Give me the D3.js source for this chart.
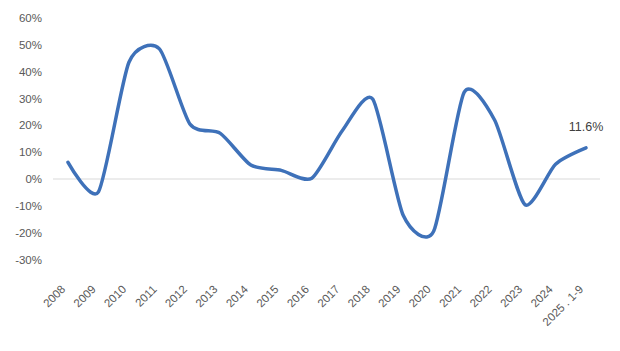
<!DOCTYPE html>
<html>
<head>
<meta charset="utf-8">
<script src="https://cdn.jsdelivr.net/npm/d3@7"></script>
<style>
  body { margin: 0; background: #fff; }
  text { font-family: "Liberation Sans", Arial, sans-serif; }
</style>
</head>
<body>
<div id="chart"></div>
<script>
// categories and values (growth rate, %)
var years = ["2008","2009","2010","2011","2012","2013","2014","2015","2016",
             "2017","2018","2019","2020","2021","2022","2023","2024","2025 . 1-9"];
var growth = [6.2, -4.8, 43.5, 48.5, 20.5, 17, 5.2, 3.2, 0.3,
              18, 29.8, -13.5, -19.5, 32.3, 22, -9.6, 5.5, 11.6];
var yTicks = [-30, -20, -10, 0, 10, 20, 30, 40, 50, 60];

var width = 620, height = 351;

var svg = d3.select("#chart")
  .append("svg")
    .attr("width", width)
    .attr("height", height);

var x = d3.scalePoint()
  .domain(years)
  .range([68, 586]);

var y = d3.scaleLinear()
  .domain([-30, 60])
  .range([259.5, 18]);

// y axis labels
svg.append("g")
  .selectAll("text")
  .data(yTicks)
  .enter()
  .append("text")
    .attr("x", 42)
    .attr("y", d => y(d))
    .attr("dy", "0.35em")
    .attr("text-anchor", "end")
    .style("font-size", "11.5px")
    .style("fill", "#595959")
    .text(d => d + "%");

// zero line
svg.append("line")
  .attr("x1", 53)
  .attr("x2", 600)
  .attr("y1", y(0))
  .attr("y2", y(0))
  .style("stroke", "#d9d9d9")
  .style("stroke-width", 1.2);

// x axis labels, rotated
svg.append("g")
  .selectAll("text")
  .data(years)
  .enter()
  .append("text")
    .attr("transform", d => "translate(" + (x(d) - 2) + "," + 290 + ") rotate(-45)")
    .attr("text-anchor", "end")
    .style("font-size", "11.5px")
    .style("fill", "#595959")
    .text(d => d);

// smoothed line
var line = d3.line()
  .x((d, i) => x(years[i]))
  .y(d => y(d))
  .curve(d3.curveCardinal.tension(0.3));

svg.append("path")
  .datum(growth)
  .attr("d", line)
  .style("fill", "none")
  .style("stroke", "#3e71b9")
  .style("stroke-width", 3.5)
  .style("stroke-linecap", "round")
  .style("stroke-linejoin", "round");

// label on the last point
var last = growth.length - 1;
svg.append("text")
  .attr("x", x(years[last]))
  .attr("y", y(growth[last]) - 17)
  .attr("text-anchor", "middle")
  .style("font-size", "12.5px")
  .style("fill", "#404040")
  .text(growth[last].toFixed(1) + "%");
</script>
</body>
</html>
